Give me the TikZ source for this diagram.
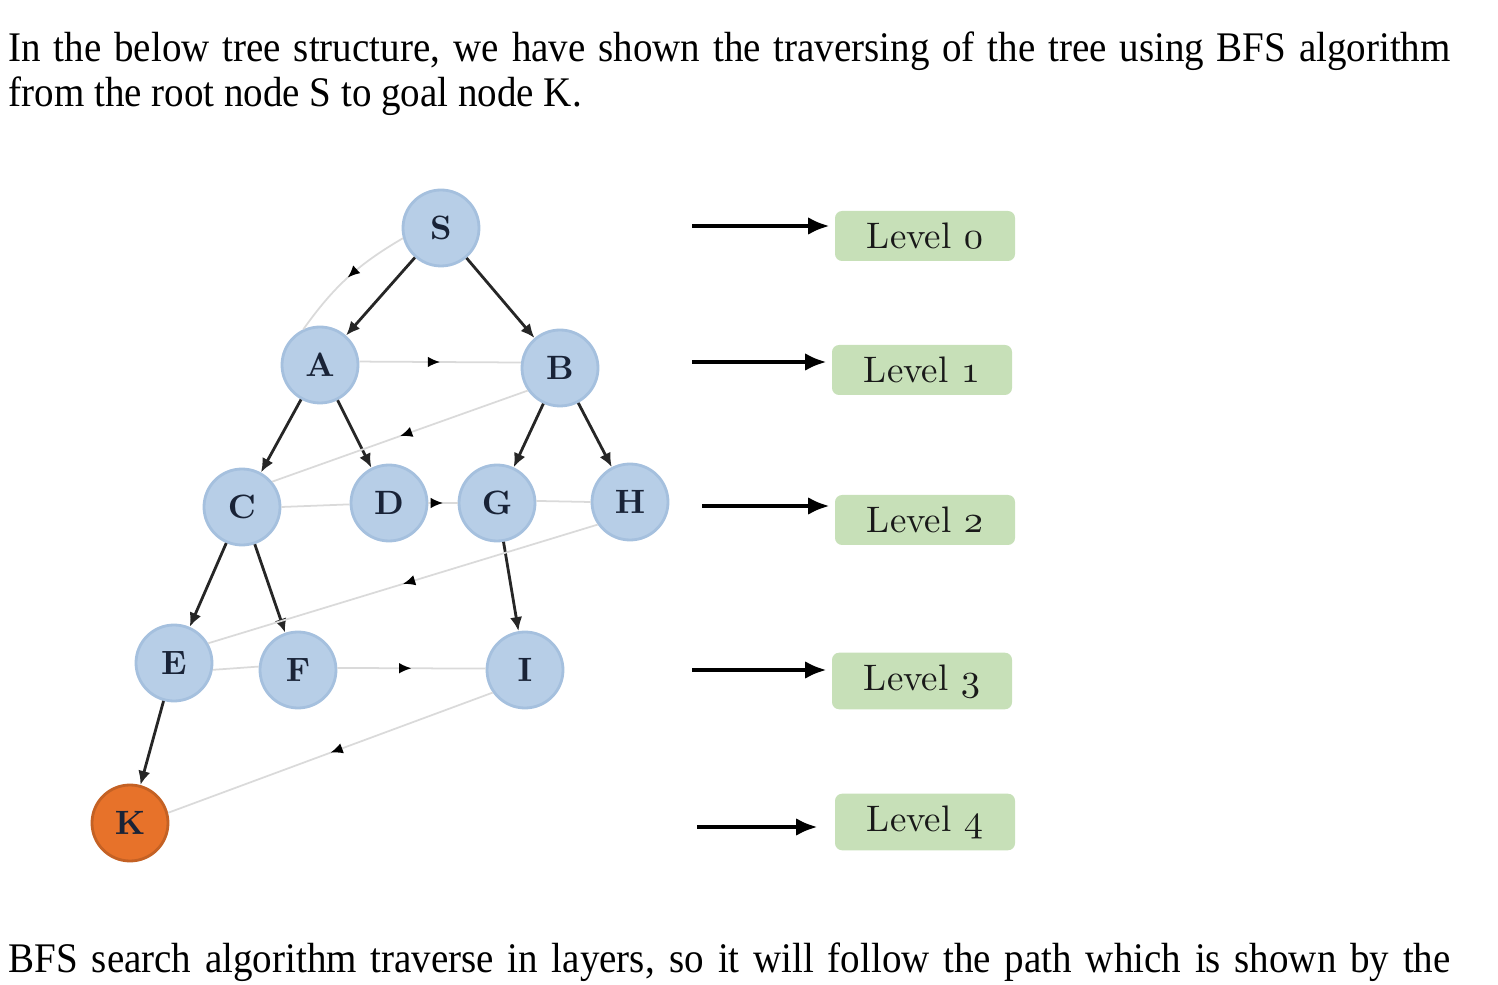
\documentclass[tikz,border=0pt]{standalone}
\usepackage{fontspec}
\newfontfamily\bodyfont[FakeStretch=0.925]{Liberation Serif}
\usetikzlibrary{arrows.meta,decorations.markings}
\newcommand{\levelnum}[1]{{\usefont{OML}{cmm}{m}{it}#1}}
\definecolor{nodeblue}{RGB}{183,206,231}
\definecolor{nodeedge}{RGB}{165,192,222}
\definecolor{goalorange}{RGB}{231,114,42}
\definecolor{levelgreen}{RGB}{199,224,184}
\definecolor{tracegray}{RGB}{218,218,218}
\definecolor{letterink}{RGB}{25,35,55}

\begin{document}
\begin{tikzpicture}[
    treenode/.style={circle, fill=nodeblue, draw=nodeedge, line width=0.8pt, minimum size=0.76cm, inner sep=0pt, font=\fontsize{9.6}{10}\selectfont\bfseries, text=letterink},
    goalnode/.style={treenode, fill=goalorange, draw=goalorange!85!black},
    levelbox/.style={rectangle, fill=levelgreen, rounded corners=2pt, minimum width=1.8cm, minimum height=0.5cm, font=\fontsize{10.5}{12}\selectfont, text=black!90},
    treeedge/.style={-{Latex[length=4pt,width=3.5pt]}, line width=0.8pt, black!85},
    traceline/.style={tracegray, line width=0.5pt},
    trace/.style={traceline, postaction={decorate}, decoration={markings, mark=at position 0.5 with {\arrow[black]{Latex[length=3.5pt,width=3pt]}}}},
    levelarrow/.style={-{Latex[length=6pt,width=5pt]}, line width=1pt, shorten >=0.5mm}
]
    \useasboundingbox (0,0) rectangle (14.98,-9.85);

    % Text above and below
    \node[anchor=base west, inner sep=0pt, font=\bodyfont\fontsize{12}{12.8}\selectfont] (intro1) at (0.08,-0.62) {\makebox[14.42cm][s]{In the below tree structure, we have shown the traversing of the tree using BFS algorithm}};
    \node[anchor=base west, inner sep=0pt, font=\bodyfont\fontsize{12}{12.8}\selectfont] (intro2) at (0.08,-1.07) {from the root node S to goal node K.};
    \node[anchor=base west, inner sep=0pt, font=\bodyfont\fontsize{12}{12.8}\selectfont] (outro) at (0.08,-9.72) {\makebox[14.42cm][s]{BFS search algorithm traverse in layers, so it will follow the path which is shown by the}};

    % Tree nodes
    \node[treenode] (S) at (4.41,-2.28) {S};
    \node[treenode] (A) at (3.20,-3.65) {A};
    \node[treenode] (B) at (5.60,-3.68) {B};
    \node[treenode] (C) at (2.42,-5.07) {C};
    \node[treenode] (D) at (3.89,-5.03) {D};
    \node[treenode] (G) at (4.97,-5.03) {G};
    \node[treenode] (H) at (6.30,-5.02) {H};
    \node[treenode] (E) at (1.74,-6.63) {E};
    \node[treenode] (F) at (2.98,-6.70) {F};
    \node[treenode] (I) at (5.25,-6.70) {I};
    \node[goalnode] (K) at (1.30,-8.23) {K};

    % Tree edges
    \draw[treeedge] (S) -- (A);
    \draw[treeedge] (S) -- (B);
    \draw[treeedge] (A) -- (C);
    \draw[treeedge] (A) -- (D);
    \draw[treeedge] (B) -- (G);
    \draw[treeedge] (B) -- (H);
    \draw[treeedge] (C) -- (E);
    \draw[treeedge] (C) -- (F);
    \draw[treeedge] (G) -- (I);
    \draw[treeedge] (E) -- (K);

    % BFS order
    \draw[trace] (S.195) to[bend right=12] (A.115);
    \draw[trace] (A.5) -- (B.172);
    \draw[trace] (B.215) -- (C.40);
    \draw[traceline] (C.0) -- (D.182);
    \draw[trace] (D) -- (G);
    \draw[traceline] (G.3) -- (H.180);
    \draw[trace] (H.215) -- (E.30);
    \draw[traceline] (E.350) -- (F.175);
    \draw[trace] (F.3) -- (I.178);
    \draw[trace] (I.215) -- (K.15);

    % Levels
    \node[levelbox] (l0) at (9.25,-2.36) {Level \levelnum{0}};
    \node[levelbox] (l1) at (9.22,-3.70) {Level \levelnum{1}};
    \node[levelbox] (l2) at (9.25,-5.20) {Level \levelnum{2}};
    \node[levelbox] (l3) at (9.22,-6.81) {Level \levelnum{3}};
    \node[levelbox] (l4) at (9.25,-8.22) {Level \levelnum{4}};
    \coordinate (a0) at (6.92,-2.26);
    \coordinate (a1) at (6.92,-3.62);
    \coordinate (a2) at (7.02,-5.06);
    \coordinate (a3) at (6.92,-6.70);
    \coordinate (a4) at (6.97,-8.27);
    \draw[levelarrow] (a0) -- (a0 -| l0.west);
    \draw[levelarrow] (a1) -- (a1 -| l1.west);
    \draw[levelarrow] (a2) -- (a2 -| l2.west);
    \draw[levelarrow] (a3) -- (a3 -| l3.west);
    \draw[levelarrow, shorten >=1.7mm] (a4) -- (a4 -| l4.west);
\end{tikzpicture}
\end{document}
